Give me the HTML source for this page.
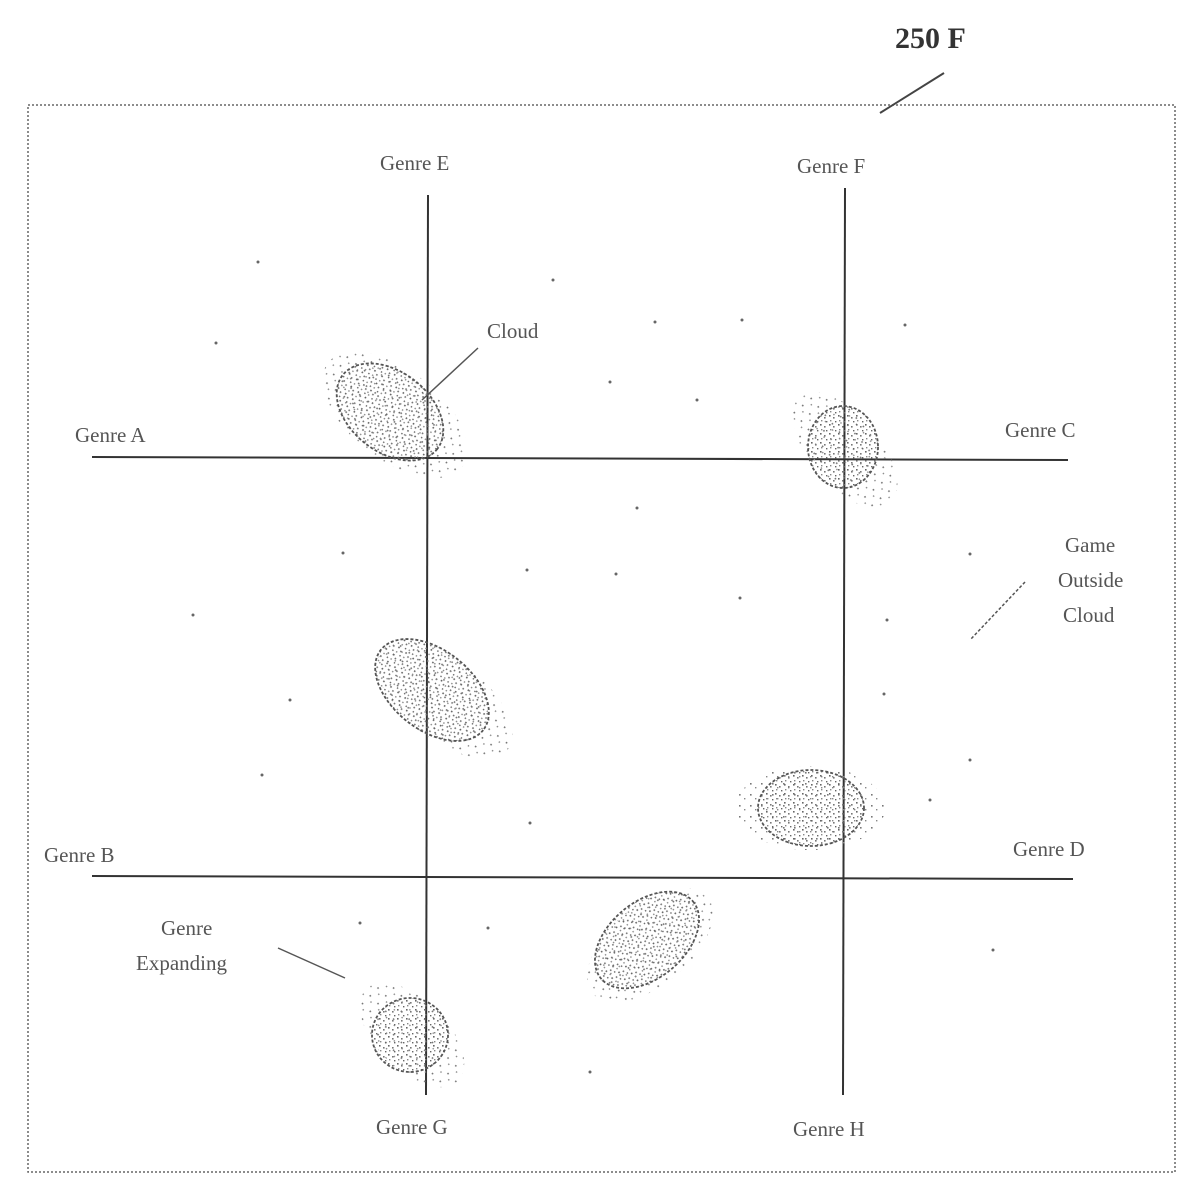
<!DOCTYPE html>
<html><head><meta charset="utf-8"><style>
html,body{margin:0;padding:0;background:#fff;}
svg{display:block;}
text{font-family:"Liberation Serif",serif;fill:#555;font-size:21px;}
</style></head><body>
<svg width="1194" height="1200" viewBox="0 0 1194 1200" xmlns="http://www.w3.org/2000/svg">
<defs>
<pattern id="sp" width="9" height="9" patternUnits="userSpaceOnUse">
<rect x="1" y="1" width="1.6" height="1.6" fill="#666"/>
<rect x="5" y="3" width="1.6" height="1.6" fill="#777"/>
<rect x="2" y="6" width="1.4" height="1.4" fill="#888"/>
<rect x="7" y="7" width="1.4" height="1.4" fill="#666"/>
</pattern>
<pattern id="sp2" width="11" height="11" patternUnits="userSpaceOnUse">
<rect x="2" y="2" width="1.6" height="1.6" fill="#777"/>
<rect x="7" y="6" width="1.4" height="1.4" fill="#888"/>
</pattern>
</defs>
<rect x="28" y="105" width="1147" height="1067" fill="none" stroke="#666" stroke-width="1.5" stroke-dasharray="2,2"/>
<text x="895" y="48" style="font-size:30px;font-weight:bold;fill:#333">250 F</text>
<line x1="944" y1="73" x2="880" y2="113" stroke="#444" stroke-width="2"/>
<g stroke="#333" stroke-width="2">
<line x1="428" y1="195" x2="426" y2="1095"/>
<line x1="845" y1="188" x2="843" y2="1095"/>
<line x1="92" y1="457" x2="1068" y2="460"/>
<line x1="92" y1="876" x2="1073" y2="879"/>
</g>
<!-- halo speckle (expanding) -->
<g fill="url(#sp2)">
<ellipse cx="395" cy="415" rx="85" ry="45" transform="rotate(38 395 415)"/>
<ellipse cx="845" cy="450" rx="70" ry="35" transform="rotate(50 845 450)"/>
<ellipse cx="445" cy="700" rx="80" ry="40" transform="rotate(38 445 700)"/>
<ellipse cx="810" cy="808" rx="75" ry="42"/>
<ellipse cx="650" cy="945" rx="75" ry="40" transform="rotate(-40 650 945)"/>
<ellipse cx="412" cy="1035" rx="65" ry="35" transform="rotate(45 412 1035)"/>
</g>
<g fill="url(#sp)">
<ellipse cx="390" cy="412" rx="60" ry="40" transform="rotate(38 390 412)"/>
<ellipse cx="843" cy="447" rx="35" ry="41"/>
<ellipse cx="432" cy="690" rx="65" ry="40" transform="rotate(38 432 690)"/>
<ellipse cx="811" cy="808" rx="53" ry="38"/>
<ellipse cx="647" cy="940" rx="60" ry="38" transform="rotate(-40 647 940)"/>
<ellipse cx="410" cy="1035" rx="38" ry="37"/>
</g>
<g fill="none" stroke="#555" stroke-width="1.8" stroke-dasharray="3,2">
<ellipse cx="390" cy="412" rx="60" ry="40" transform="rotate(38 390 412)"/>
<ellipse cx="843" cy="447" rx="35" ry="41"/>
<ellipse cx="432" cy="690" rx="65" ry="40" transform="rotate(38 432 690)"/>
<ellipse cx="811" cy="808" rx="53" ry="38"/>
<ellipse cx="647" cy="940" rx="60" ry="38" transform="rotate(-40 647 940)"/>
<ellipse cx="410" cy="1035" rx="38" ry="37"/>
</g>
<g stroke="#555" stroke-width="1.5">
<line x1="478" y1="348" x2="422" y2="400"/>
<line x1="1025" y1="582" x2="970" y2="640" stroke-dasharray="3,2"/>
<line x1="278" y1="948" x2="345" y2="978"/>
</g>
<g fill="#666">
<circle cx="258" cy="262" r="1.5"/><circle cx="553" cy="280" r="1.5"/><circle cx="216" cy="343" r="1.5"/>
<circle cx="655" cy="322" r="1.5"/><circle cx="742" cy="320" r="1.5"/><circle cx="905" cy="325" r="1.5"/>
<circle cx="610" cy="382" r="1.5"/><circle cx="697" cy="400" r="1.5"/><circle cx="637" cy="508" r="1.5"/>
<circle cx="343" cy="553" r="1.5"/><circle cx="527" cy="570" r="1.5"/><circle cx="616" cy="574" r="1.5"/>
<circle cx="740" cy="598" r="1.5"/><circle cx="193" cy="615" r="1.5"/><circle cx="970" cy="554" r="1.5"/>
<circle cx="887" cy="620" r="1.5"/><circle cx="290" cy="700" r="1.5"/><circle cx="884" cy="694" r="1.5"/>
<circle cx="262" cy="775" r="1.5"/><circle cx="970" cy="760" r="1.5"/><circle cx="930" cy="800" r="1.5"/>
<circle cx="530" cy="823" r="1.5"/><circle cx="360" cy="923" r="1.5"/><circle cx="488" cy="928" r="1.5"/>
<circle cx="993" cy="950" r="1.5"/><circle cx="590" cy="1072" r="1.5"/>
</g>
<text x="380" y="170">Genre E</text>
<text x="797" y="173">Genre F</text>
<text x="487" y="338">Cloud</text>
<text x="75" y="442">Genre A</text>
<text x="1005" y="437">Genre C</text>
<text x="1065" y="552">Game</text>
<text x="1058" y="587">Outside</text>
<text x="1063" y="622">Cloud</text>
<text x="44" y="862">Genre B</text>
<text x="1013" y="856">Genre D</text>
<text x="161" y="935">Genre</text>
<text x="136" y="970">Expanding</text>
<text x="376" y="1134">Genre G</text>
<text x="793" y="1136">Genre H</text>
</svg>
</body></html>
